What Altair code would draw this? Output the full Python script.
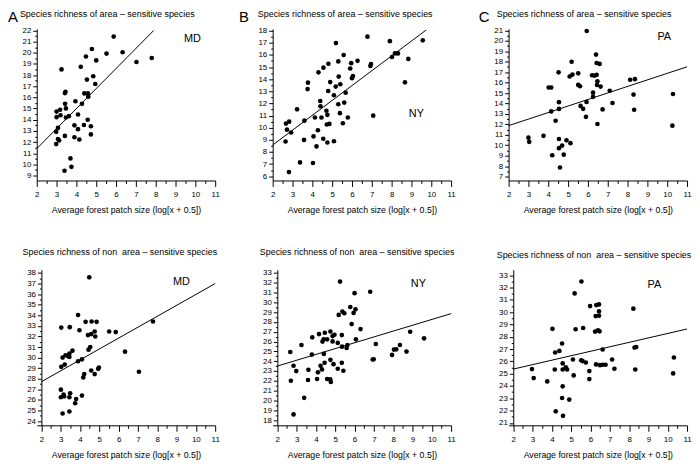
import altair as alt
import pandas as pd

FONT = "Liberation Sans"

# ---------- data ----------
# A: MD, area-sensitive species
md_area_x = [5.88,4.78,4.48,5.52,5.0,6.33,7.8,7.03,3.25,4.22,4.85,4.53,4.95,3.45,3.42,4.4,4.58,4.6,3.95,4.28,3.43,3.47,3.0,3.18,3.0,3.2,3.47,3.62,4.08,4.57,3.07,3.9,4.08,4.38,4.73,2.98,3.42,3.9,4.73,4.15,3.07,3.13,2.98,3.7,3.75,3.4]
md_area_y = [21.45,20.34,19.67,19.93,19.32,20.05,19.53,19.18,18.51,18.74,17.9,17.6,17.2,16.5,16.39,16.36,16.36,16.07,15.66,15.43,15.43,15.02,14.73,14.9,14.23,14.4,14.2,14.32,14.47,14.0,13.27,13.5,13.16,13.53,13.42,12.92,12.55,12.43,12.69,12.23,12.28,12.14,11.82,10.54,9.78,9.43]
md_area_line_x = [2, 7.9]
md_area_line_y = [11.41, 22.0]

# B: NY, area-sensitive species
ny_area_x = [6.78,7.91,9.57,5.19,5.58,8.02,8.17,8.32,8.84,6.28,5.31,5.96,4.81,4.56,6.93,6.96,4.31,5.91,5.33,6.0,6.05,3.78,3.76,4.9,5.41,4.8,5.68,5.18,8.67,4.4,5.09,5.31,5.61,3.23,4.41,4.71,4.76,5.39,7.07,5.79,4.13,4.46,2.67,2.83,3.6,4.86,4.73,5.54,2.72,2.93,4.28,4.06,3.58,4.55,2.65,4.76,5.09,4.21,3.38,4.03,2.82]
ny_area_y = [17.5,17.13,17.2,16.97,15.99,15.83,16.12,16.12,15.67,15.51,15.46,15.32,15.27,14.95,15.09,15.25,14.56,14.88,14.21,14.08,14.26,13.71,13.18,13.76,13.58,13.02,12.89,13.39,13.74,12.2,12.67,11.93,12.07,11.51,11.77,11.4,11.06,11.2,10.99,10.84,10.84,10.84,10.34,10.5,10.58,10.31,10.26,10.37,9.84,9.6,9.79,9.28,8.99,9.09,8.86,8.78,8.88,8.46,7.14,7.09,6.34]
ny_area_line_x = [2, 9.74]
ny_area_line_y = [8.57, 18.05]

# C: PA, area-sensitive species
pa_area_x = [5.94,6.41,6.44,6.59,5.18,4.52,5.51,5.22,5.08,6.21,6.33,6.44,6.48,6.46,6.64,5.51,5.6,4.02,4.15,8.13,8.37,7.1,6.26,6.26,8.3,10.29,4.54,5.93,7.24,5.63,5.76,6.74,8.33,4.54,4.15,5.9,4.37,6.48,10.26,3.76,3.0,3.04,4.54,4.92,5.12,4.7,4.54,4.2,4.78,4.59]
pa_area_y = [20.94,18.68,17.88,17.79,18.0,16.98,16.89,16.77,16.58,16.7,16.67,16.74,16.12,15.78,15.62,15.78,15.65,15.53,15.53,16.27,16.33,15.22,15.04,14.64,14.85,14.91,14.13,14.14,14.05,13.77,13.49,13.43,13.4,13.48,13.24,12.72,12.35,12.04,11.88,10.9,10.73,10.33,10.6,10.47,10.2,9.97,9.72,9.04,9.1,7.87]
pa_area_line_x = [2, 11]
pa_area_line_y = [11.88, 17.51]

# D: MD, non area-sensitive species
md_non_x = [4.48,3.9,4.29,4.6,4.86,3.03,3.47,7.78,3.97,5.51,5.85,4.76,4.79,4.58,4.41,4.53,4.44,3.61,6.33,3.45,3.25,3.39,3.45,3.1,4.1,3.9,3.21,3.03,4.98,4.94,4.58,7.05,4.22,4.76,4.17,3.01,3.15,3.49,3.18,4.1,3.01,3.45,3.8,3.75,3.1,3.45]
md_non_y = [37.59,34.03,33.38,33.41,33.38,32.84,32.88,33.41,32.59,32.47,32.41,32.47,32.0,32.22,32.13,31.0,30.75,30.66,30.56,30.38,30.22,30.13,30.06,30.0,29.84,29.66,29.34,29.13,29.06,28.94,28.78,28.66,28.44,28.44,28.13,26.97,26.5,26.63,26.34,26.41,26.25,26.25,26.09,25.69,24.72,24.91]
md_non_line_x = [2, 11]
md_non_line_y = [27.72, 37.0]

# E: NY, non area-sensitive species
ny_non_x = [5.25,6.81,6.0,5.78,6.05,5.95,5.37,5.47,5.18,5.85,6.31,4.75,4.16,4.46,3.81,4.96,4.86,5.34,4.58,4.4,4.34,4.86,5.13,6.07,3.25,5.63,5.59,5.35,7.1,8.88,9.6,8.35,8.16,8.04,7.94,8.69,2.67,3.79,4.41,6.94,6.99,4.75,4.45,5.34,4.91,2.84,4.24,4.31,5.13,2.98,3.61,4.1,5.42,2.7,3.59,4.06,4.58,4.74,4.77,3.39,2.84]
ny_non_y = [32.12,31.08,30.94,29.53,29.29,28.92,29.06,28.89,28.72,27.78,27.27,27.03,26.76,26.9,26.43,26.7,26.56,26.66,26.23,26.23,26.0,26.02,25.86,26.23,25.65,25.65,25.35,25.48,25.75,27.0,26.33,25.65,25.21,25.18,24.64,24.98,24.94,24.67,24.74,24.17,24.2,24.14,23.83,23.83,23.7,23.53,23.53,23.16,23.23,22.99,23.12,22.86,23.02,22.01,22.08,22.18,22.18,22.15,21.88,20.26,18.57]
ny_non_line_x = [2, 11]
ny_non_line_y = [23.5, 28.85]

# F: PA, non area-sensitive species
pa_non_x = [5.53,5.18,5.98,6.3,6.44,6.44,6.44,6.27,8.22,4.03,5.23,5.62,6.24,6.39,6.47,4.53,6.63,8.28,8.37,4.39,4.17,7.12,5.09,5.52,5.59,4.56,5.76,10.32,6.29,6.49,6.63,6.78,8.32,7.24,4.72,4.79,4.15,4.56,2.97,5.94,5.13,3.06,5.94,3.76,10.28,4.56,4.53,4.9,4.2,4.58]
pa_non_y = [32.49,31.52,30.49,30.57,30.63,30.06,29.71,29.68,30.28,28.64,28.61,28.71,28.42,28.52,28.44,27.45,26.96,27.12,27.17,26.85,26.72,26.15,26.15,26.09,26.02,25.83,25.91,26.31,25.75,25.69,25.72,25.72,25.34,25.4,25.51,25.34,25.34,25.34,25.37,25.21,24.86,24.64,24.56,24.37,25.02,23.97,23.02,22.89,21.94,21.57]
pa_non_line_x = [2, 11]
pa_non_line_y = [25.37, 28.63]

SP = "\u00a0"
title_area = SP.join(["Species", "richness", "of", "area", "\u2013", "sensitive", "species"])
title_non = SP.join(["Species", "richness", "of", "non", "\u00a0area", "\u2013", "sensitive", "species"])
x_title = "Average forest patch size (log[x + 0.5])"

W = 180
H1, H2 = 153, 157


def panel(xs, ys, lx, ly, xdom, ydom, ylo, yhi, h, letter, letter_dx, title, title_dx,
          title_dy, state, sx, sy, yoffset=0):
    xvals = [v / 2 for v in range(4, 23)]
    yvals = [v / 2 for v in range(ylo * 2, yhi * 2 + 1)]
    xaxis = alt.Axis(
        values=xvals, title=x_title,
        labelExpr="datum.value % 1 === 0 ? format(datum.value, 'd') : ''",
        tickSize={"condition": {"test": "datum.value % 1 !== 0", "value": 3}, "value": 6},
        labelPadding=4, titlePadding=7,
    )
    yaxis = alt.Axis(
        values=yvals, title=None, offset=yoffset,
        labelExpr="datum.value % 1 === 0 ? format(datum.value, 'd') : ''",
        tickSize={"condition": {"test": "datum.value % 1 !== 0", "value": 2}, "value": 4},
        labelPadding=2,
    )
    xenc = alt.X("x:Q", scale=alt.Scale(domain=xdom, nice=False, zero=False), axis=xaxis)
    yenc = alt.Y("y:Q", scale=alt.Scale(domain=ydom, nice=False, zero=False), axis=yaxis)

    pts = alt.Chart(pd.DataFrame({"x": xs, "y": ys})).mark_circle(
        size=22, color="black", opacity=1).encode(x=xenc, y=yenc)
    line = alt.Chart(pd.DataFrame({"x": lx, "y": ly})).mark_line(
        color="black", strokeWidth=1).encode(x=xenc, y=yenc)
    layers = [pts, line]
    one = alt.Data(values=[{"k": 0}])
    if letter:
        layers.append(alt.Chart(one).mark_text(
            text=letter, font=FONT, fontSize=15, align="left", baseline="alphabetic",
            color="black").encode(x=alt.value(letter_dx), y=alt.value(-7)))
    layers.append(alt.Chart(one).mark_text(
        text=title, font=FONT, fontSize=9, align="left", baseline="alphabetic",
        color="black").encode(x=alt.value(title_dx), y=alt.value(title_dy)))
    layers.append(alt.Chart(one).mark_text(
        text=state, font=FONT, fontSize=11, align="center", baseline="middle",
        color="black").encode(x=alt.value(sx), y=alt.value(sy)))
    return alt.layer(*layers).properties(width=W, height=h)


pA = panel(md_area_x, md_area_y, md_area_line_x, md_area_line_y, [2, 11], [8.56, 22.15], 9, 22, H1,
           "A", -29, title_area, -17, -12, "MD", 157, 10)
pB = panel(ny_area_x, ny_area_y, ny_area_line_x, ny_area_line_y, [2, 11], [5.65, 18.15], 6, 18, H1,
           "B", -34, title_area, -15, -12, "NY", 145, 86)
pC = panel(pa_area_x, pa_area_y, pa_area_line_x, pa_area_line_y, [2, 11], [6.63, 21.15], 7, 21, H1,
           "C", -30, title_area, -12, -12, "PA", 157, 8)
pD = panel(md_non_x, md_non_y, md_non_line_x, md_non_line_y, [1.76, 11], [23.6, 38.31], 24, 38, H2,
           None, 0, title_non, -14.3, -15, "MD", 146, 12, yoffset=-4.7)
pE = panel(ny_non_x, ny_non_y, ny_non_line_x, ny_non_line_y, [1.76, 11], [17.46, 33.33], 18, 33, H2,
           None, 0, title_non, -13, -15, "NY", 147, 14, yoffset=-4.7)
pF = panel(pa_non_x, pa_non_y, pa_non_line_x, pa_non_line_y, [1.76, 11], [20.8, 33.45], 21, 33, H2,
           None, 0, title_non, -12, -12, "PA", 147, 15, yoffset=-4.7)

chart = alt.concat(
    pA, pB, pC, pD, pE, pF, columns=3, spacing={"row": 90, "column": 58}, bounds="flush"
).properties(
    padding=0, background="white"
).configure_view(stroke=None).configure_axis(
    grid=False, domainColor="black", tickColor="black", labelColor="black",
    titleColor="black", labelFont=FONT, titleFont=FONT, labelFontSize=8,
    titleFontSize=8.8, titleFontWeight="normal", labelFlush=False, labelOverlap=False,
    domainWidth=1, tickWidth=1,
)

chart.save("out.html", embed_options={"renderer": "svg", "actions": False})
